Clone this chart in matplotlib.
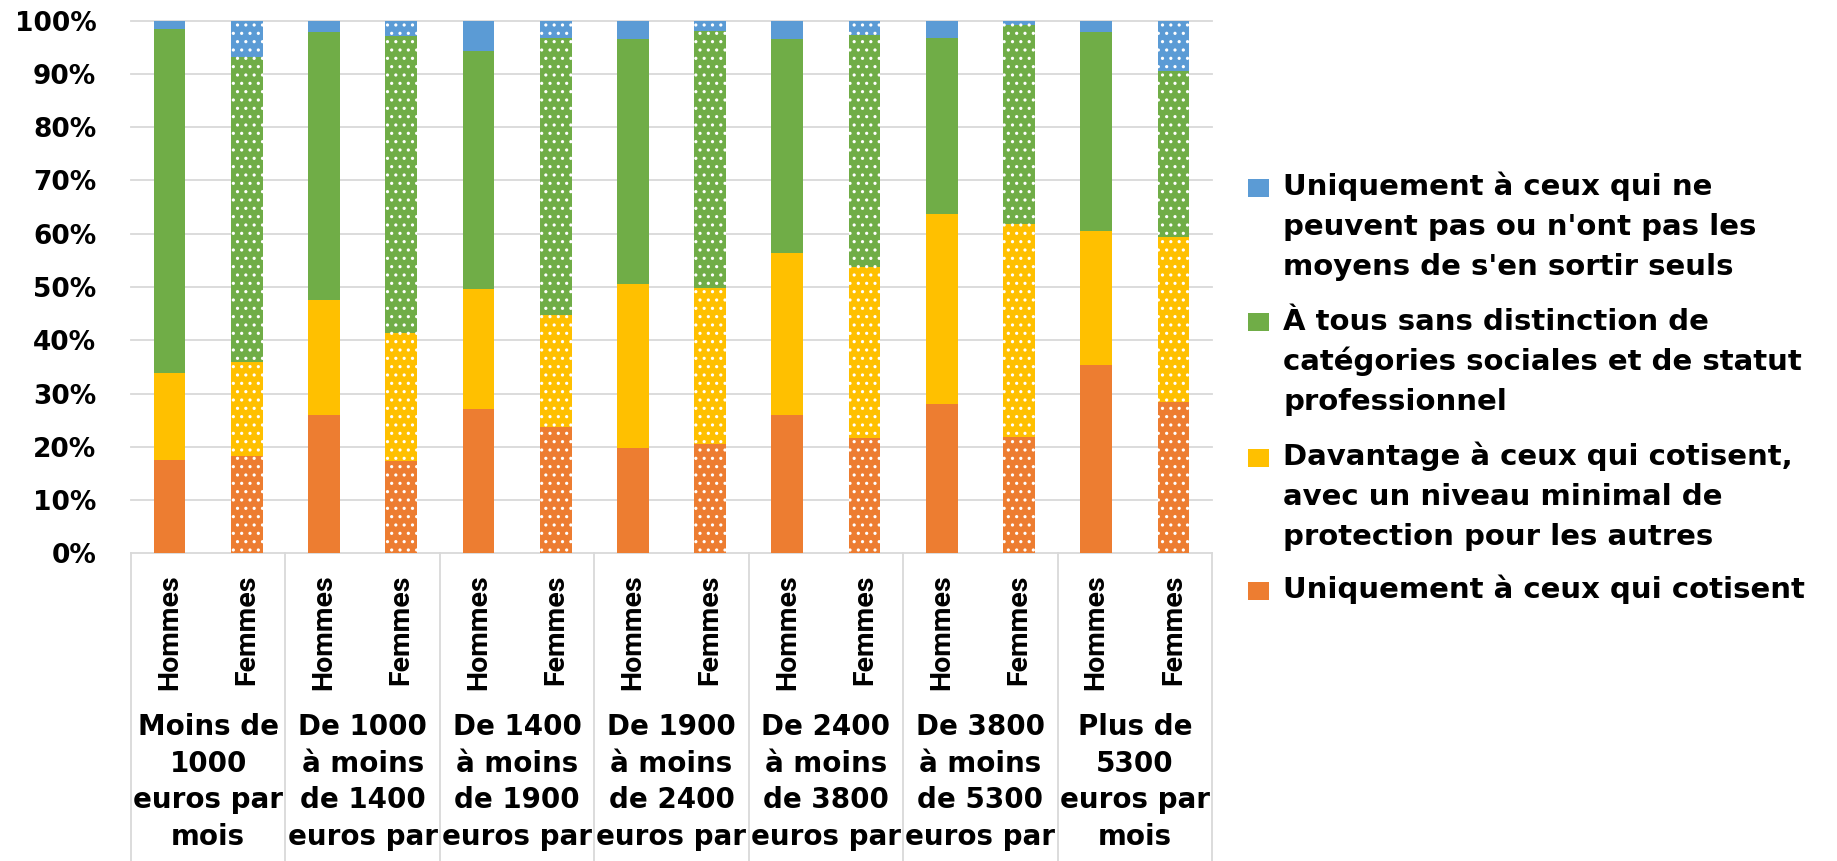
import matplotlib
matplotlib.use("Agg")
import matplotlib.pyplot as plt
from matplotlib import font_manager as fm
from matplotlib.patches import Rectangle
import numpy as np

# ---------------- data ----------------
groups = [
    "Moins de\n1000\neuros par\nmois",
    "De 1000\nà moins\nde 1400\neuros par",
    "De 1400\nà moins\nde 1900\neuros par",
    "De 1900\nà moins\nde 2400\neuros par",
    "De 2400\nà moins\nde 3800\neuros par",
    "De 3800\nà moins\nde 5300\neuros par",
    "Plus de\n5300\neuros par\nmois",
]
sexes = ["Hommes", "Femmes"]

# values in %, order: bars Hommes/Femmes for each income group
cotisent = [17.6, 18.2, 26.0, 17.3, 27.0, 23.8, 19.8, 20.6, 26.0, 21.6, 28.1, 21.8, 35.4, 28.5]
davantage = [16.3, 17.8, 21.6, 24.0, 22.6, 21.0, 30.8, 29.3, 30.4, 32.2, 35.6, 40.1, 25.2, 30.9]
tous = [64.5, 57.1, 50.3, 55.9, 44.7, 52.0, 45.9, 48.2, 40.2, 43.5, 33.0, 37.2, 37.2, 31.2]
ne_peuvent = [1.6, 6.9, 2.1, 2.8, 5.7, 3.2, 3.5, 1.9, 3.4, 2.7, 3.3, 0.9, 2.2, 9.4]

series_labels = [
    "Uniquement à ceux qui cotisent",
    "Davantage à ceux qui cotisent,\navec un niveau minimal de\nprotection pour les autres",
    "À tous sans distinction de\ncatégories sociales et de statut\nprofessionnel",
    "Uniquement à ceux qui ne\npeuvent pas ou n'ont pas les\nmoyens de s'en sortir seuls",
]
series_values = [cotisent, davantage, tous, ne_peuvent]
series_colors = ["#ED7D31", "#FFC000", "#70AD47", "#5B9BD5"]

yticks = [0, 10, 20, 30, 40, 50, 60, 70, 80, 90, 100]

# ---------------- layout ----------------
W, H, DPI = 1837, 861, 100
plt.rcParams["font.family"] = ["DejaVu Sans"]
plt.rcParams["font.weight"] = "bold"
plt.rcParams["hatch.linewidth"] = 1.1

fig = plt.figure(figsize=(W / DPI, H / DPI), dpi=DPI)
ax_left, ax_right, ax_top, ax_bot = 131, 1212, 20.7, 553.3
ax = fig.add_axes([ax_left / W, 1 - ax_bot / H, (ax_right - ax_left) / W, (ax_bot - ax_top) / H])

def py2ax(y):
    return (ax_bot - y) / (ax_bot - ax_top)

# narrower font for rotated labels
names = {(f.name, f.stretch) for f in fm.fontManager.ttflist}
if any(n == "Liberation Sans Narrow" for n, s in names):
    rot_font, rot_size = "Liberation Sans Narrow", 23
elif any(n == "Roboto" for n, s in names):
    rot_font, rot_size = "Roboto", 20.5
else:
    rot_font, rot_size = "DejaVu Sans", 16.5

n = len(groups) * len(sexes)
x = np.arange(n)
bottom = np.zeros(n)
for vals, col in zip(series_values, series_colors):
    vals = np.asarray(vals, dtype=float)
    for s_idx in range(len(sexes)):
        sel = (x % 2) == s_idx
        hatched = s_idx == 1
        ax.bar(x[sel], vals[sel], bottom=bottom[sel], width=0.41,
               color=col, edgecolor="white" if hatched else col,
               linewidth=0, hatch=".." if hatched else None, zorder=2)
    bottom += vals

ax.set_xlim(-0.5, n - 0.5)
ax.set_ylim(0, 100)
ax.set_yticks(yticks)
ax.set_yticklabels([f"{v}%" for v in yticks], fontsize=19, fontweight="bold")
ax.tick_params(axis="y", length=0, pad=25)
ax.yaxis.grid(True, color="#D9D9D9", linewidth=1.3, zorder=0)
ax.set_axisbelow(True)
for gl in ax.get_ygridlines():
    gl.set_clip_on(False)
for sp in ax.spines.values():
    sp.set_visible(False)

ax.set_xticks(x)
ax.set_xticklabels(sexes * len(groups), rotation=90, va="top", ha="center",
                   fontsize=rot_size, fontweight="bold", family=rot_font)
ax.tick_params(axis="x", length=0, pad=15)

# category separators
trans = ax.get_xaxis_transform()
for b in np.arange(-0.5, n, 2):
    ax.plot([b, b], [0, py2ax(870)], color="#D9D9D9", linewidth=1.3,
            transform=trans, clip_on=False, zorder=1)

# group labels
for g, lab in enumerate(groups):
    for j, line in enumerate(lab.split("\n")):
        ax.text(2 * g + 0.5, py2ax(735 + 36.7 * j), line, transform=trans,
                ha="center", va="baseline", fontsize=20, fontweight="bold")

# legend (top entry = last series)
leg_baselines = [[195, 235, 275], [330, 370, 410], [465, 505, 545], [598]]
sq_tops = [179, 313, 449, 582]
for k, idx in enumerate(range(len(series_labels) - 1, -1, -1)):
    fig.add_artist(Rectangle((1248 / W, 1 - (sq_tops[k] + 18) / H), 21 / W, 18 / H,
                             transform=fig.transFigure, color=series_colors[idx], lw=0))
    for j, line in enumerate(series_labels[idx].split("\n")):
        fig.text(1283 / W, 1 - leg_baselines[k][j] / H, line, ha="left", va="baseline",
                 fontsize=21, fontweight="bold")

fig.savefig("out.png", dpi=DPI)
